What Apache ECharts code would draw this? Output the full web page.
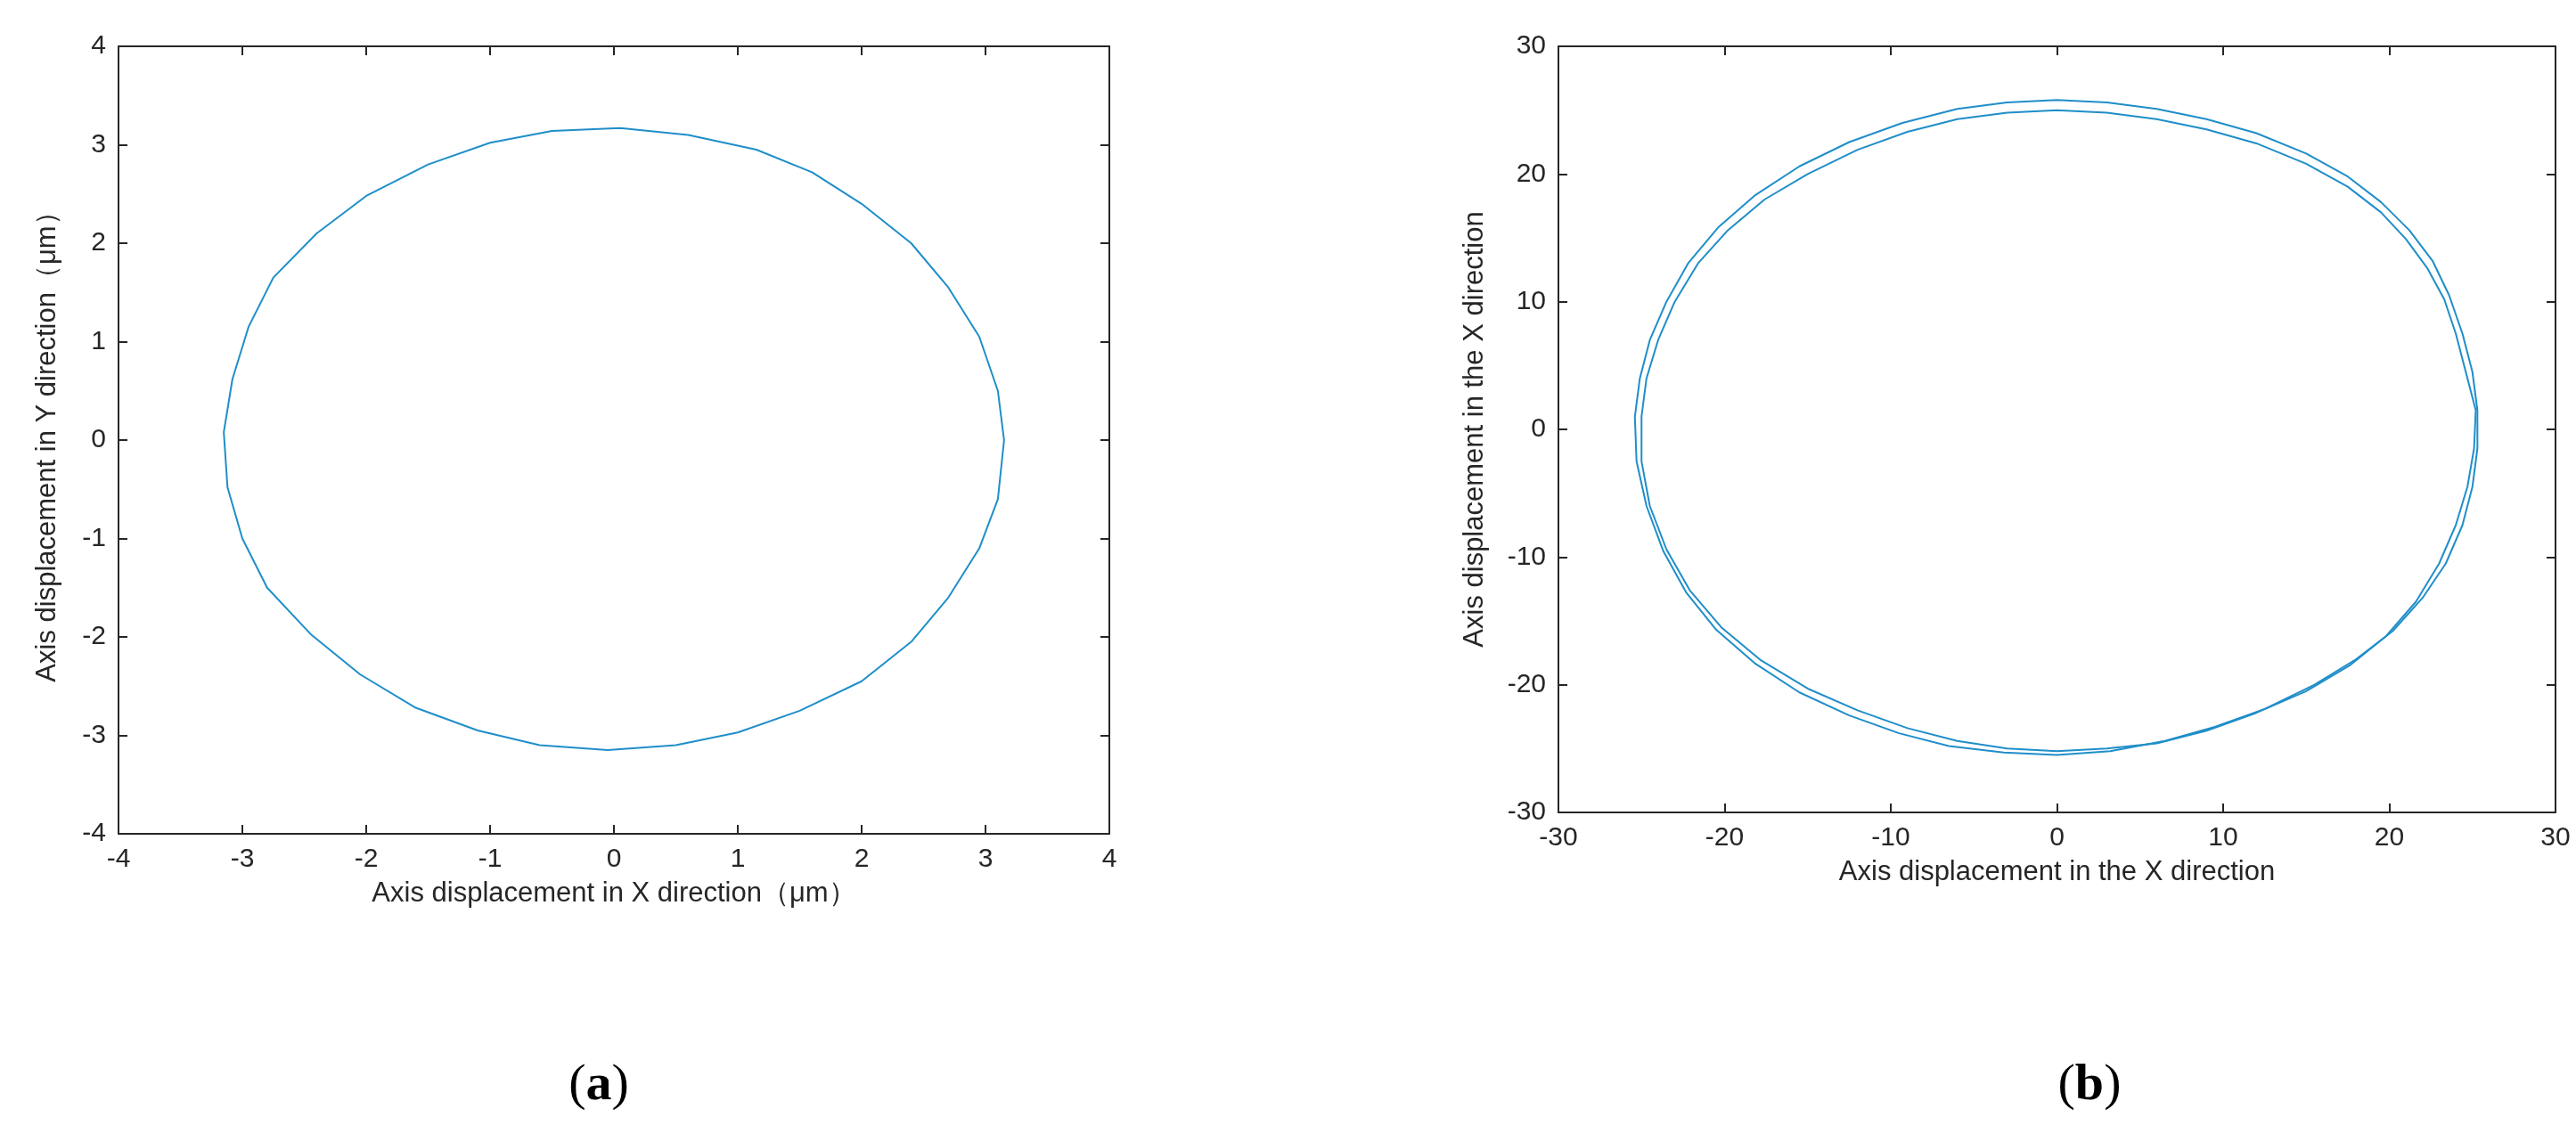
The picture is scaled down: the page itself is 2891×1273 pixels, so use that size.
<!DOCTYPE html>
<html>
<head>
<meta charset="utf-8">
<script src="https://cdn.jsdelivr.net/npm/echarts@6/dist/echarts.min.js"></script>
<style>html,body{margin:0;padding:0;background:#fff;}#main{width:2891px;height:1273px;}</style>
</head>
<body>
<div id="main"></div>
<script>
// orbit (a), um
var orbitA = [[0.05,3.17],[0.6,3.1],[1.15,2.95],[1.6,2.72],[2.0,2.4],[2.4,2.0],[2.7,1.55],[2.95,1.05],[3.1,0.5],[3.15,0],
  [3.1,-0.6],[2.95,-1.1],[2.7,-1.6],[2.4,-2.05],[2.0,-2.45],[1.5,-2.75],[1.0,-2.97],[0.5,-3.1],[-0.05,-3.15],[-0.6,-3.1],
  [-1.1,-2.95],[-1.6,-2.72],[-2.05,-2.38],[-2.45,-1.97],[-2.8,-1.5],[-3.0,-1.0],[-3.12,-0.48],[-3.15,0.08],[-3.08,0.62],
  [-2.95,1.15],[-2.75,1.65],[-2.4,2.1],[-2.0,2.48],[-1.5,2.8],[-1.0,3.02],[-0.5,3.14],[0.05,3.17]];
// orbit (b), outer and inner loop
var orbitBOuter = [[0,25.8],[3,25.6],[6,25.1],[9,24.3],[12,23.2],[15,21.6],[17.5,19.8],[19.5,17.8],[21.2,15.6],[22.6,13.2],
  [23.6,10.5],[24.4,7.5],[25.0,4.5],[25.3,1.5],[25.3,-1.5],[25.0,-4.5],[24.4,-7.5],[23.4,-10.5],[22.0,-13.2],[20.2,-15.8],
  [18.0,-18.0],[15.5,-20.0],[12.5,-21.9],[9.5,-23.3],[6.5,-24.4],[3.2,-25.2],[0,-25.5],[-3.2,-25.3],[-6.5,-24.8],[-9.5,-23.8],
  [-12.5,-22.4],[-15.5,-20.6],[-18.2,-18.3],[-20.5,-15.7],[-22.3,-12.8],[-23.7,-9.5],[-24.7,-6],[-25.3,-2.5],[-25.4,1],
  [-25.1,4],[-24.5,7],[-23.5,10],[-22.2,13],[-20.4,15.8],[-18.2,18.3],[-15.5,20.6],[-12.5,22.5],[-9.3,24],[-6,25.1],[-3,25.6],[0,25.8]];
var orbitBInner = [[0,25.0],[3,24.8],[6,24.3],[9,23.5],[12,22.4],[15,20.8],[17.5,19.0],[19.5,17.0],[21.0,14.9],[22.3,12.6],
  [23.3,10.2],[24.0,7.5],[24.6,4.5],[25.2,1.5],[25.1,-1.5],[24.7,-4.5],[24.0,-7.5],[23.0,-10.5],[21.6,-13.5],[19.8,-16.2],
  [17.6,-18.5],[15.0,-20.5],[12.0,-22.2],[9.0,-23.6],[6.0,-24.6],[3.0,-25.0],[0,-25.2],[-3.0,-25.0],[-6.0,-24.4],[-9.0,-23.4],
  [-12.0,-22.0],[-15.0,-20.3],[-17.8,-18.1],[-20.2,-15.5],[-22.1,-12.6],[-23.5,-9.4],[-24.5,-6],[-25.0,-2.5],[-25.0,1],
  [-24.7,4],[-24.0,7],[-23.0,10],[-21.6,13],[-19.8,15.6],[-17.6,18.0],[-15.0,20.0],[-12.0,21.9],[-9.0,23.3],[-6,24.3],[-3,24.8],[0,25.0]];

var lineColor = '#1f8ec9';
var axisColor = '#262626';
var font = 'Liberation Sans, Arial, sans-serif';

function mainAxis(idx, min, max, interval, name, gap, pos) {
    return {
        type: 'value', gridIndex: idx, min: min, max: max, interval: interval, position: pos,
        name: name, nameLocation: 'middle', nameGap: gap,
        nameTextStyle: { color: axisColor, fontSize: 31, fontFamily: font },
        axisLine: { show: true, onZero: false, lineStyle: { color: axisColor, width: 2 } },
        axisTick: { show: true, inside: true, length: 10, lineStyle: { color: axisColor, width: 2 } },
        axisLabel: { color: axisColor, fontSize: 30, fontFamily: font, margin: 14 },
        splitLine: { show: false }
    };
}
function mirrorAxis(idx, min, max, interval, pos) {
    return {
        type: 'value', gridIndex: idx, min: min, max: max, interval: interval, position: pos,
        axisLine: { show: true, onZero: false, lineStyle: { color: axisColor, width: 2 } },
        axisTick: { show: true, inside: true, length: 10, lineStyle: { color: axisColor, width: 2 } },
        axisLabel: { show: false }, splitLine: { show: false }
    };
}

var myChart = echarts.init(document.getElementById('main'));
var option = {
    backgroundColor: '#fff',
    animation: false,
    title: [
        { text: '({b|a})', left: 667, top: 1185, textAlign: 'center',
          textStyle: { fontFamily: 'Liberation Serif, serif', fontSize: 58, color: '#000', fontWeight: 'normal',
            rich: { b: { fontFamily: 'Liberation Serif, serif', fontSize: 58, fontWeight: 'bold' } } } },
        { text: '({b|b})', left: 2340, top: 1185, textAlign: 'center',
          textStyle: { fontFamily: 'Liberation Serif, serif', fontSize: 58, color: '#000', fontWeight: 'normal',
            rich: { b: { fontFamily: 'Liberation Serif, serif', fontSize: 58, fontWeight: 'bold' } } } }
    ],
    grid: [
        { left: 133, top: 52, width: 1112, height: 884 },
        { left: 1749, top: 52, width: 1119, height: 860 }
    ],
    xAxis: [
        mainAxis(0, -4, 4, 1, 'Axis displacement in X direction\uff08\u03bcm\uff09', 52, 'bottom'),
        mirrorAxis(0, -4, 4, 1, 'top'),
        mainAxis(1, -30, 30, 10, 'Axis displacement in the X direction', 52, 'bottom'),
        mirrorAxis(1, -30, 30, 10, 'top')
    ],
    yAxis: [
        mainAxis(0, -4, 4, 1, 'Axis displacement in Y direction\uff08\u03bcm\uff09', 64, 'left'),
        mirrorAxis(0, -4, 4, 1, 'right'),
        mainAxis(1, -30, 30, 10, 'Axis displacement in the X direction', 78, 'left'),
        mirrorAxis(1, -30, 30, 10, 'right')
    ],
    series: [
        { type: 'line', xAxisIndex: 0, yAxisIndex: 0, data: orbitA, showSymbol: false,
          lineStyle: { color: lineColor, width: 2 } },
        { type: 'line', xAxisIndex: 2, yAxisIndex: 2, data: orbitBOuter, showSymbol: false,
          lineStyle: { color: lineColor, width: 2 } },
        { type: 'line', xAxisIndex: 2, yAxisIndex: 2, data: orbitBInner, showSymbol: false,
          lineStyle: { color: lineColor, width: 2 } }
    ]
};
myChart.setOption(option);
</script>
</body>
</html>
